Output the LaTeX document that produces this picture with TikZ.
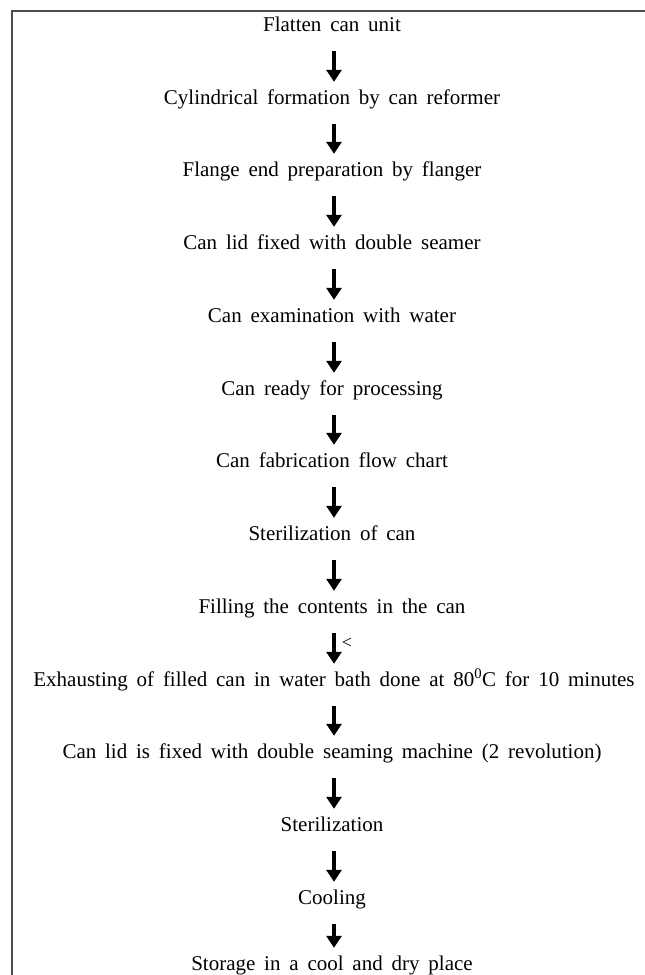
\documentclass[tikz,border=0pt]{standalone}
\usepackage{fontspec}
\setmainfont{Liberation Serif}
\usetikzlibrary{arrows.meta}
\tikzset{
  stage/.style={inner sep=0pt, text height=14pt, text depth=5pt, font=\fontsize{21}{24}\selectfont, execute at begin node={\spaceskip=0.42em\relax}},
  flow/.style={line width=3.2pt, -{Triangle[width=15pt,length=12pt]}},
  frame/.style={line width=1.5pt, draw=black!70}
}
\begin{document}
\begin{tikzpicture}[x=1pt,y=-1pt]
\useasboundingbox (0,0) rectangle (645,975);
\draw[frame] (12,975) -- (12,11) -- (645,11);
\node[stage] (t1) at (332,27) {Flatten can unit};
\node[stage] (t2) at (332,100) {Cylindrical formation by can reformer};
\node[stage] (t3) at (332,172) {Flange end preparation by flanger};
\node[stage] (t4) at (332,245) {Can lid fixed with double seamer};
\node[stage] (t5) at (332,318) {Can examination with water};
\node[stage] (t6) at (332,391) {Can ready for processing};
\node[stage] (t7) at (332,463) {Can fabrication flow chart};
\node[stage] (t8) at (332,536) {Sterilization of can};
\node[stage] (t9) at (332,609) {Filling the contents in the can};
\node[stage] (t10) at (334,682) {Exhausting of filled can in water bath done at 80\textsuperscript{0}C for 10 minutes};
\node[stage] (t11) at (332,754) {Can lid is fixed with double seaming machine (2 revolution)};
\node[stage] (t12) at (332,827) {Sterilization};
\node[stage] (t13) at (332,900) {Cooling};
\node[stage] (t14) at (332,966) {Storage in a cool and dry place};
\foreach \a/\b in {t1/t2,t2/t3,t3/t4,t4/t5,t5/t6,t6/t7,t7/t8,t8/t9,t9/t10,t10/t11,t11/t12,t12/t13,t13/t14}{
  \draw[flow] ([yshift=-14.5pt]\a.south -| 334,0) -- ([yshift=8.5pt]\b.north -| 334,0);
}
\node[inner sep=0pt, font=\fontsize{18}{20}\selectfont] (lt) at (347,643) {<};
\end{tikzpicture}
\end{document}
